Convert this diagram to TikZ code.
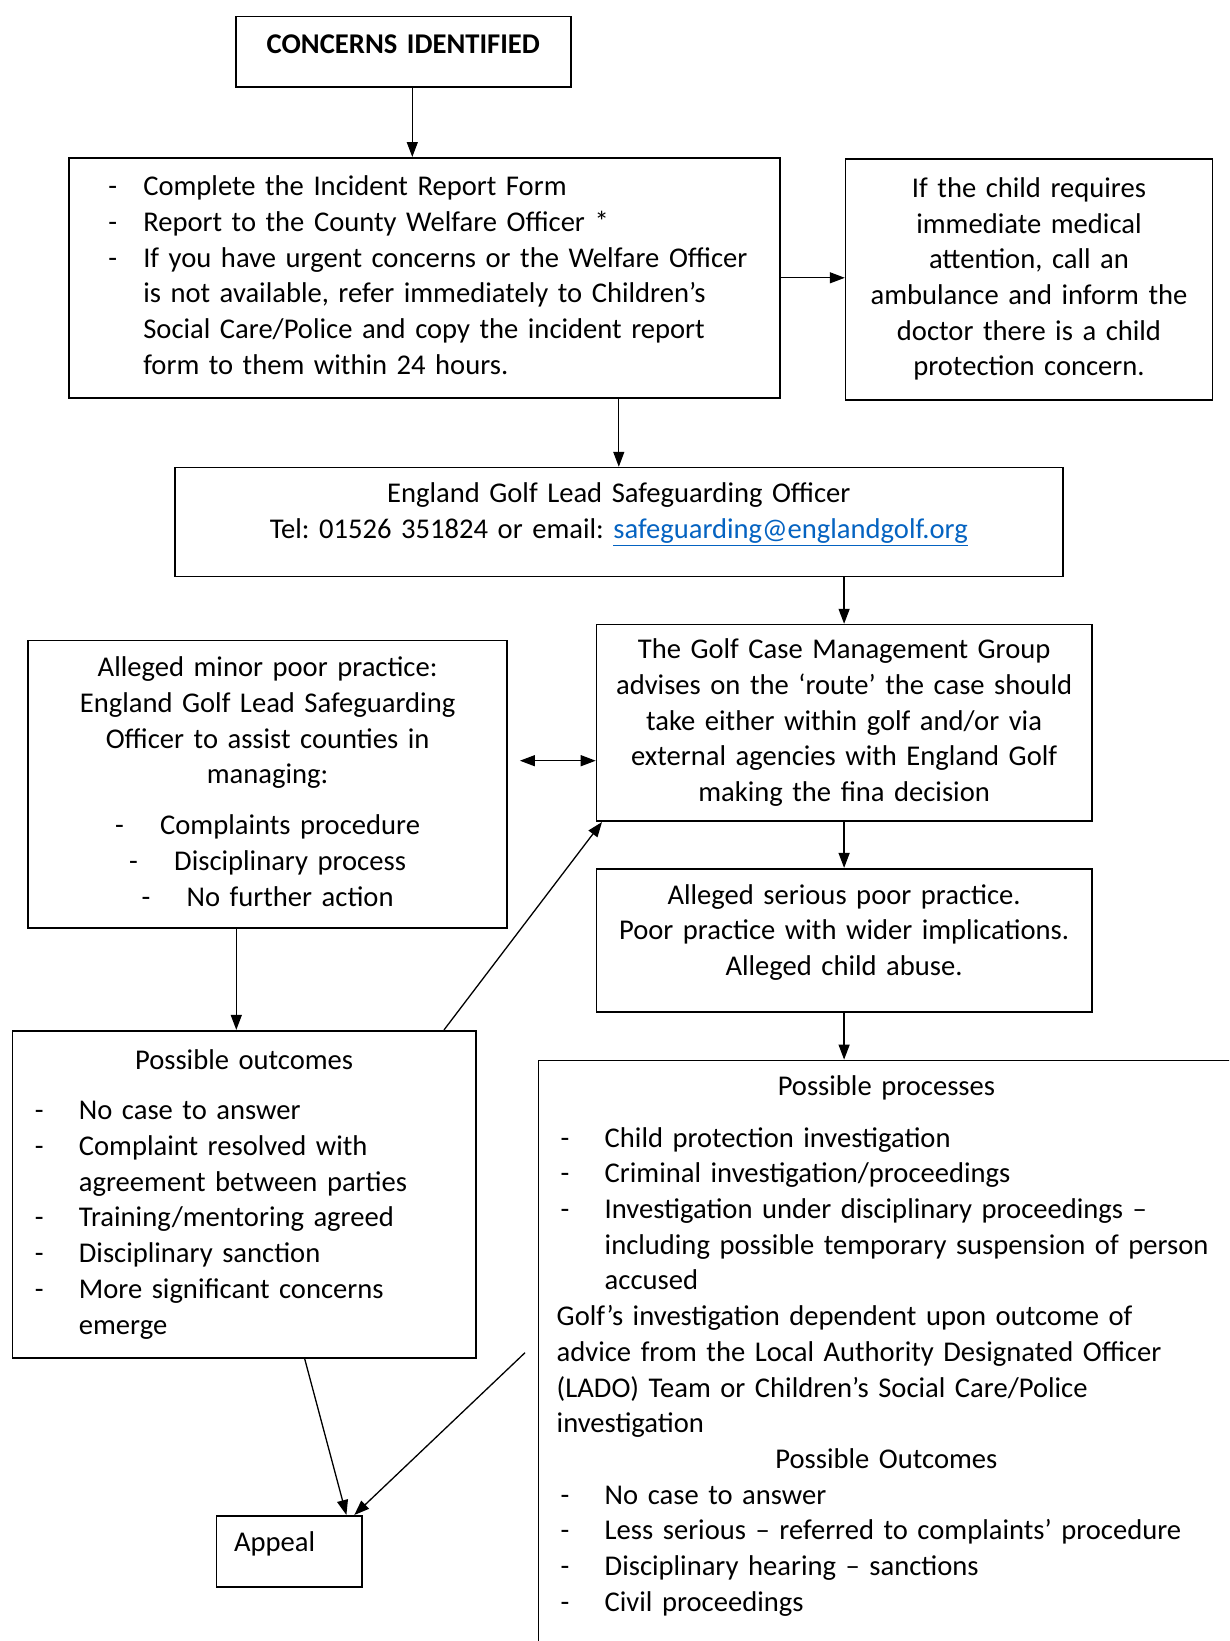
\documentclass[tikz,border=0pt]{standalone}
\usepackage{fontspec}
\setmainfont{Carlito}
\usetikzlibrary{arrows.meta}
\definecolor{linkblue}{RGB}{5,99,193}
\newcommand{\dashitem}[2][48pt]{\mbox{\makebox[#1][l]{\hspace{4pt}-}#2}}
\newcommand{\dashcont}[2][48pt]{\mbox{\hspace*{#1}#2}}
\newcommand{\padbelow}[1]{\rule[-#1]{0pt}{#1}}
\frenchspacing

\begin{document}
\begin{tikzpicture}[
    x=1pt, y=-1pt,
    every node/.style={font=\fontsize{28.6}{35.7}\selectfont},
    box/.style={draw, line width=1.6pt, rectangle, anchor=north west, inner ysep=2pt,
        execute at begin node=\strut, execute at end node=\strut},
    mid/.style={box, align=center, inner xsep=2pt},
    lft/.style={box, align=left},
    arr/.style={-{Triangle[length=15pt,width=11pt]}, line width=1.3pt},
    arrboth/.style={{Triangle[length=15pt,width=11pt]}-{Triangle[length=15pt,width=11pt]}, line width=1.3pt}
]
\useasboundingbox (0,0) rectangle (1229,1641);
\clip (0,0) rectangle (1229,1641);

% Boxes
\node[mid, minimum width=335pt, minimum height=70.5pt, text width=331pt,
    font=\fontsize{28.6}{35.7}\selectfont\bfseries] (concerns) at (235,15.5)
    {CONCERNS IDENTIFIED\padbelow{21.5pt}};

\node[lft, inner xsep=35.5pt, minimum width=711pt, minimum height=240pt, text width=640pt] (report) at (68,157) {%
    \dashitem[39pt]{Complete the Incident Report Form}\\
    \dashitem[39pt]{Report to the County Welfare Officer *}\\
    \dashitem[39pt]{If you have urgent concerns or the Welfare Officer}\\
    \dashcont[39pt]{is not available, refer immediately to Children’s}\\
    \dashcont[39pt]{Social Care/Police and copy the incident report}\\
    \dashcont[39pt]{form to them within 24 hours.}};

\node[mid, minimum width=366.8pt, minimum height=241pt, text width=362.8pt] (medical) at (844.8,158.3) {%
    If the child requires\\ immediate medical\\ attention, call an\\
    ambulance and inform the\\ doctor there is a child\\ protection concern.};

\node[mid, minimum width=888pt, minimum height=109pt, text width=884pt] (lead) at (174,466.8) {%
    England Golf Lead Safeguarding Officer\\
    Tel: 01526 351824 or email: {\color{linkblue}\underline{safeguarding@englandgolf.org}}\padbelow{27.7pt}};

\node[mid, minimum width=495.2pt, minimum height=196.6pt, text width=491.2pt] (cmg) at (595.7,623.8) {%
    The Golf Case Management Group\\ advises on the ‘route’ the case should\\
    take either within golf and/or via\\ external agencies with England Golf\\
    making the fina decision};

\node[mid, minimum width=479pt, minimum height=287.4pt, text width=475pt] (minor) at (27.3,639.8) {%
    Alleged minor poor practice:\\ England Golf Lead Safeguarding\\
    Officer to assist counties in\\ managing:\\[15pt]
    \makebox[45pt][l]{-}Complaints procedure\\
    \makebox[45pt][l]{-}Disciplinary process\\
    \makebox[45pt][l]{-}No further action};

\node[mid, minimum width=495.2pt, minimum height=143.2pt, text width=491.2pt] (serious) at (595.7,867.9) {%
    Alleged serious poor practice.\\ Poor practice with wider implications.\\
    Alleged child abuse.\padbelow{25.7pt}};

\node[lft, inner xsep=18.3pt, minimum width=463.1pt, minimum height=327.5pt, text width=426.5pt] (outcomes) at (11.8,1029.9) {%
    \makebox[\linewidth]{Possible outcomes}\\[15pt]
    \dashitem{No case to answer}\\
    \dashitem{Complaint resolved with}\\
    \dashcont{agreement between parties}\\
    \dashitem{Training/mentoring agreed}\\
    \dashitem{Disciplinary sanction}\\
    \dashitem{More significant concerns}\\
    \dashcont{emerge}};

\node[lft, inner xsep=18.3pt, inner ysep=10pt, minimum width=696pt, text width=659.4pt] (proc) at (537.6,1059.6) {%
    \makebox[\linewidth]{Possible processes}\\[16pt]
    \dashitem{Child protection investigation}\\
    \dashitem{Criminal investigation/proceedings}\\
    \dashitem{Investigation under disciplinary proceedings –}\\
    \dashcont{including possible temporary suspension of person}\\
    \dashcont{accused}\\
    Golf’s investigation dependent upon outcome of\\
    advice from the Local Authority Designated Officer\\
    (LADO) Team or Children’s Social Care/Police\\
    investigation\\
    \makebox[\linewidth]{Possible Outcomes}\\
    \dashitem{No case to answer}\\
    \dashitem{Less serious – referred to complaints’ procedure}\\
    \dashitem{Disciplinary hearing – sanctions}\\
    \dashitem{Civil proceedings}\padbelow{50pt}};

\node[lft, inner xsep=17.7pt, minimum width=145.8pt, minimum height=71.3pt, text width=110.4pt] (appeal) at (215.5,1515) {%
    Appeal\padbelow{24.3pt}};

% Connectors
\coordinate (c1) at ([xshift=9pt]concerns.south);
\draw[arr] (c1) -- (c1 |- report.north);
\draw[arr] (report.east) -- (report.east -| medical.west);
\draw[arr] (report.south -| lead.north) -- (lead.north);
\draw[arr] (lead.south -| cmg.north) -- (cmg.north);

\coordinate (dblend) at ([yshift=-37.8pt]cmg.west);
\coordinate (dblstart) at (dblend -| minor.east);
\draw[arrboth] ([xshift=12pt]dblstart) -- (dblend);

\draw[arr] (cmg.south) -- (serious.north);
\coordinate (c2) at ([xshift=-31.3pt]minor.south);
\draw[arr] (c2) -- (c2 |- outcomes.north);
\draw[arr] ([xshift=-32.5pt]outcomes.north east) -- ([xshift=6.3pt]cmg.south west);
\draw[arr] (serious.south) -- (serious.south |- proc.north);

% Appeal
\coordinate (ladoend) at (525,1352.7);
\draw[arr] ([xshift=60.6pt]outcomes.south) -- ([xshift=-16.5pt]appeal.north east);
\draw[arr] (ladoend) -- ([xshift=-8.6pt]appeal.north east);

\end{tikzpicture}
\end{document}
